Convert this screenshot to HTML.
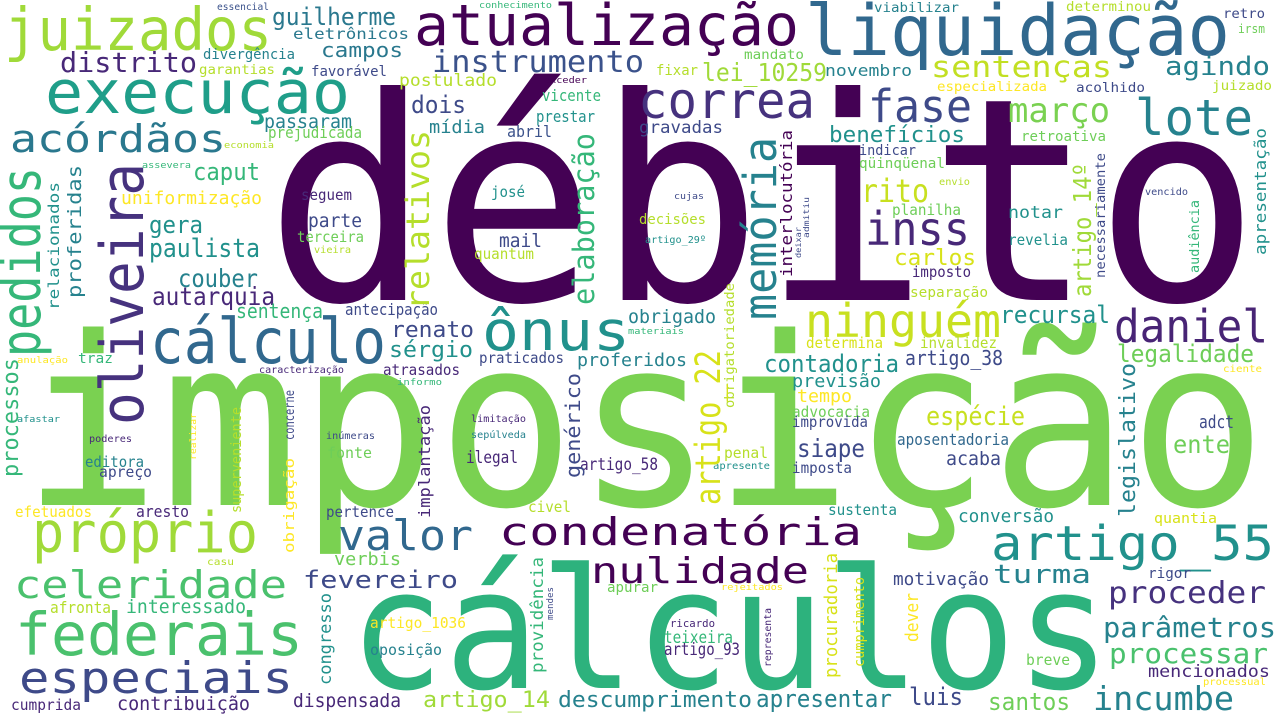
<!DOCTYPE html>
<html><head><meta charset="utf-8"><style>
html,body{margin:0;padding:0;background:#fff;}
svg{display:block;}
text{font-family:"DejaVu Sans Mono","Liberation Mono",monospace;}
</style></head><body>
<svg width="1280" height="720" viewBox="0 0 1280 720" xmlns="http://www.w3.org/2000/svg">
<rect width="1280" height="720" fill="#ffffff"/>
<g id="h"></g>
<g id="v"></g>
</svg>
<script>
// horizontal words: word, x, baseline, width, font-size, color
const H = [
["débito",265,300,995,283,"#440154"],
["imposição",22,505,1245,235,"#7ad151"],
["cálculos",349,688,762,167,"#2db27d"],
["liquidação",805,55,425,70,"#31688e"],
["atualização",414,45,385,57,"#440154"],
["juizados",4,50,268,59,"#a0da39"],
["execução",45,113,305,60,"#1f9e89"],
["acórdãos",10,152,216,38,"#2a788e"],
["guilherme",272,25,124,24,"#2a788e"],
["eletrônicos",293,39,116,15,"#2a788e"],
["campos",321,57,82,20,"#2a788e"],
["distrito",60,72,137,28,"#482878"],
["divergência",203,59,92,14,"#26828e"],
["garantias",199,74,76,13,"#b5de2b"],
["favorável",311,76,76,14,"#3e4a89"],
["instrumento",432,72,212,30,"#3b528b"],
["essencial",217,10,52,10,"#3b528b"],
["conhecimento",479,8,73,9,"#35b779"],
["postulado",399,86,98,17,"#b5de2b"],
["exceder",544,83,43,9,"#440154"],
["dois",411,113,55,24,"#3e4a89"],
["mídia",429,133,56,18,"#26828e"],
["abril",507,137,45,16,"#3b528b"],
["prestar",536,122,59,16,"#21918c"],
["vicente",542,101,59,16,"#35b779"],
["passaram",264,128,88,19,"#26828e"],
["prejudicada",268,138,94,16,"#6ece58"],
["economia",224,148,50,9,"#b5de2b"],
["caput",193,180,67,24,"#35b779"],
["uniformização",121,204,141,18,"#fde725"],
["assevera",142,168,49,9,"#35b779"],
["gera",149,233,54,24,"#21918c"],
["paulista",149,257,111,26,"#21918c"],
["couber",178,287,80,25,"#26828e"],
["autarquia",152,305,123,25,"#482878"],
["sentença",236,318,87,20,"#35b779"],
["antecipação",345,315,93,16,"#3e4a89"],
["seguem",301,200,51,15,"#482878"],
["parte",308,227,54,19,"#3e4a89"],
["terceira",297,242,67,15,"#6ece58"],
["vieira",314,253,37,10,"#b5de2b"],
["josé",491,197,34,15,"#21918c"],
["mail",499,247,43,19,"#3e4a89"],
["quantum",474,259,60,15,"#b5de2b"],
["cálculo",150,363,236,62,"#31688e"],
["ônus",482,350,148,55,"#21918c"],
["renato",391,337,83,22,"#3e4a89"],
["sérgio",389,357,84,22,"#21918c"],
["obrigado",628,323,88,19,"#26828e"],
["materiais",628,334,56,9,"#35b779"],
["praticados",479,363,85,15,"#3e4a89"],
["proferidos",577,366,110,18,"#26828e"],
["correa",638,118,177,50,"#46327e"],
["gravadas",639,133,84,17,"#3e4a89"],
["fixar",656,75,42,14,"#b5de2b"],
["mandato",744,59,60,13,"#6ece58"],
["lei_10259",702,81,125,25,"#a0da39"],
["novembro",825,76,87,16,"#26828e"],
["viabilizar",874,12,85,13,"#26828e"],
["determinou",1066,11,85,13,"#b5de2b"],
["retro",1223,18,42,13,"#3e4a89"],
["irsm",1238,33,27,12,"#6ece58"],
["sentenças",931,77,181,29,"#c2df23"],
["agindo",1165,75,105,26,"#26828e"],
["especializada",937,91,110,13,"#fde725"],
["acolhido",1076,92,69,13,"#3e4a89"],
["juizado",1212,90,60,13,"#b5de2b"],
["fase",868,122,104,45,"#3e4a89"],
["março",1008,122,102,34,"#7ad151"],
["lote",1135,135,118,50,"#26828e"],
["benefícios",829,142,136,22,"#21918c"],
["retroativa",1021,141,85,14,"#6ece58"],
["indicar",859,155,57,14,"#3e4a89"],
["qüinqüenal",859,168,86,14,"#6ece58"],
["envio",939,185,31,10,"#b5de2b"],
["rito",861,202,68,32,"#c8e020"],
["planilha",892,215,69,15,"#6ece58"],
["inss",865,245,105,46,"#482878"],
["carlos",894,265,82,22,"#d8e219"],
["imposto",912,277,59,15,"#482878"],
["separação",910,297,78,14,"#b5de2b"],
["notar",1008,218,55,17,"#21918c"],
["revelia",1008,245,60,15,"#21918c"],
["recursal",1000,323,110,24,"#21918c"],
["cujas",674,199,30,9,"#3e4a89"],
["decisões",639,224,67,14,"#b5de2b"],
["artigo_29º",645,243,61,10,"#21918c"],
["vencido",1145,195,43,10,"#3e4a89"],
["ninguém",805,337,196,46,"#c8e020"],
["daniel",1114,342,154,45,"#482475"],
["determina",806,348,77,15,"#d8e219"],
["invalidez",920,348,77,15,"#b5de2b"],
["contadoria",764,372,135,24,"#21918c"],
["artigo_38",905,365,98,20,"#3e4a89"],
["legalidade",1117,362,137,24,"#6ece58"],
["ciente",1223,372,39,10,"#fde725"],
["anulação",17,363,51,9,"#fde725"],
["traz",78,363,35,14,"#35b779"],
["caracterização",259,373,85,10,"#482878"],
["atrasados",383,375,77,15,"#482878"],
["informo",397,385,45,9,"#35b779"],
["previsão",792,387,89,18,"#21918c"],
["tempo",797,402,55,18,"#fde725"],
["advocacia",792,417,78,15,"#6ece58"],
["improvida",792,427,76,15,"#3e4a89"],
["espécie",926,425,99,26,"#c8e020"],
["afastar",17,422,43,9,"#21918c"],
["poderes",89,442,43,10,"#482878"],
["editora",85,467,59,15,"#26828e"],
["apreço",99,477,53,15,"#3e4a89"],
["inúmeras",326,439,49,10,"#3e4a89"],
["fonte",327,458,45,15,"#6ece58"],
["limitação",471,422,55,10,"#482878"],
["sepúlveda",471,438,55,10,"#26828e"],
["ilegal",466,463,52,17,"#482878"],
["artigo_58",580,470,78,17,"#482878"],
["penal",724,458,44,15,"#b5de2b"],
["apresente",713,469,57,10,"#21918c"],
["siape",797,457,68,25,"#3e4a89"],
["imposta",792,473,60,15,"#3e4a89"],
["aposentadoria",897,445,112,16,"#31688e"],
["acaba",946,465,55,19,"#3e4a89"],
["ente",1173,453,57,25,"#6ece58"],
["adct",1199,428,35,18,"#3e4a89"],
["efetuados",15,517,77,15,"#fde725"],
["aresto",136,517,53,16,"#482878"],
["próprio",32,552,226,56,"#a0da39"],
["pertence",326,517,68,15,"#3e4a89"],
["civel",528,512,43,15,"#b5de2b"],
["sustenta",828,515,69,15,"#21918c"],
["conversão",958,522,96,18,"#21918c"],
["quantia",1154,523,63,14,"#d8e219"],
["valor",338,550,135,42,"#31688e"],
["condenatória",499,545,363,38,"#440154"],
["artigo_55",991,560,283,48,"#21918c"],
["verbis",334,565,67,18,"#6ece58"],
["casu",207,565,27,10,"#b5de2b"],
["celeridade",14,598,273,38,"#4ac16d"],
["nulidade",591,583,218,36,"#440154"],
["fevereiro",303,588,155,24,"#3e4a89"],
["turma",993,583,98,26,"#26828e"],
["motivação",893,585,96,18,"#3e4a89"],
["rigor",1148,578,43,14,"#3e4a89"],
["proceder",1108,603,158,30,"#46327e"],
["apurar",607,592,51,14,"#6ece58"],
["rejeitados",721,590,62,9,"#fde725"],
["afronta",50,613,61,16,"#b5de2b"],
["interessado",126,613,120,19,"#35b779"],
["artigo_1036",370,628,96,15,"#fde725"],
["oposição",370,655,72,15,"#26828e"],
["ricardo",670,627,45,11,"#482878"],
["teixeira",664,643,69,17,"#35b779"],
["artigo_93",664,655,76,17,"#482878"],
["federais",15,655,288,59,"#4ac16d"],
["especiais",19,693,274,44,"#3e4a89"],
["breve",1026,665,44,15,"#6ece58"],
["parâmetros",1103,637,173,28,"#26828e"],
["processar",1109,663,159,28,"#4ac16d"],
["mencionados",1148,677,122,17,"#482878"],
["processual",1203,685,63,10,"#fde725"],
["cumprida",11,710,70,15,"#482878"],
["contribuição",117,710,133,19,"#482878"],
["dispensada",293,707,108,19,"#482878"],
["artigo_14",423,707,127,22,"#a0da39"],
["descumprimento",558,707,194,22,"#26828e"],
["apresentar",756,707,136,24,"#26828e"],
["luis",909,705,54,24,"#3e4a89"],
["santos",988,710,82,24,"#6ece58"],
["incumbe",1093,710,141,33,"#26828e"]
];
// vertical words (read bottom-up): word, baselineX, bottomY, length, font-size, color
const V = [
["pedidos",40,357,190,55,"#35b779"],
["oliveira",143,425,262,60,"#46327e"],
["relacionados",59,310,128,15,"#21918c"],
["proferidas",81,298,133,19,"#26828e"],
["relativos",429,310,180,32,"#b5de2b"],
["elaboração",594,305,172,29,"#35b779"],
["memória",776,320,183,45,"#26828e"],
["interlocutória",792,277,147,16,"#440154"],
["deixar",801,258,31,8,"#3e4a89"],
["admitiu",809,238,41,8,"#3e4a89"],
["artigo_14º",1091,297,134,25,"#a0da39"],
["necessariamente",1105,278,125,13,"#3e4a89"],
["audiência",1199,273,73,13,"#35b779"],
["apresentação",1266,255,127,16,"#21918c"],
["obrigatoriedade",734,408,125,13,"#b5de2b"],
["artigo_22",720,505,155,35,"#d8e219"],
["processos",18,477,119,22,"#35b779"],
["realizar",196,460,47,9,"#fde725"],
["superveniente",241,513,106,14,"#b5de2b"],
["concerne",294,440,50,13,"#3e4a89"],
["obrigação",294,553,95,14,"#fde725"],
["implantação",430,518,113,16,"#482878"],
["genérico",580,478,105,20,"#3e4a89"],
["legislativo",1135,517,154,22,"#26828e"],
["congresso",331,685,92,17,"#21918c"],
["providência",543,673,116,17,"#35b779"],
["mendes",553,620,33,9,"#3e4a89"],
["representa",771,667,59,10,"#482878"],
["procuradoria",837,678,125,18,"#d8e219"],
["cumprimento",864,667,90,14,"#d8e219"],
["dever",918,642,49,18,"#fde725"]
];
const NS = "http://www.w3.org/2000/svg";
function slug(s){return s.normalize("NFD").replace(/[\u0300-\u036f]/g,"").replace(/[^a-zA-Z0-9]+/g,"-").toLowerCase();}
const gh = document.getElementById("h");
H.forEach(w => {
  const t = document.createElementNS(NS, "text");
  
  
  t.setAttribute("x", w[1]);
  t.setAttribute("y", w[2]);
  t.setAttribute("textLength", w[3]);
  t.setAttribute("lengthAdjust", "spacingAndGlyphs");
  t.setAttribute("font-size", w[4]);
  t.setAttribute("fill", w[5]);
  t.textContent = w[0];
  gh.appendChild(t);
});
const gv = document.getElementById("v");
V.forEach(w => {
  const t = document.createElementNS(NS, "text");
  
  
  t.setAttribute("transform", "translate(" + w[1] + "," + w[2] + ") rotate(-90)");
  t.setAttribute("textLength", w[3]);
  t.setAttribute("lengthAdjust", "spacingAndGlyphs");
  t.setAttribute("font-size", w[4]);
  t.setAttribute("fill", w[5]);
  t.textContent = w[0];
  gv.appendChild(t);
});
</script>
</body></html>
